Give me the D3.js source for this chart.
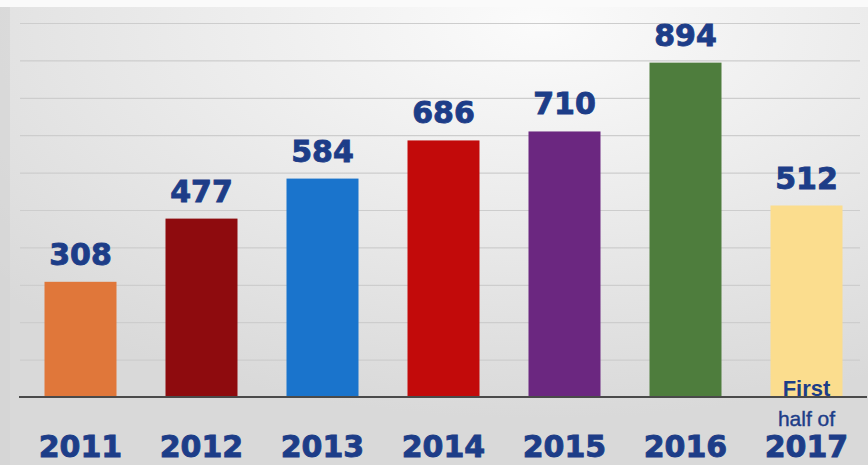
<!DOCTYPE html>
<html>
<head>
<meta charset="utf-8">
<script src="https://cdn.jsdelivr.net/npm/d3@7"></script>
<style>
  html, body { margin: 0; padding: 0; background: #e2e2e2; }
  svg { display: block; }
</style>
</head>
<body>
<svg id="chart" width="868" height="465"></svg>
<script>
// Yearly totals
const years = ["2011", "2012", "2013", "2014", "2015", "2016", "2017"];
const values = [308, 477, 584, 686, 710, 894, 512];
const barColors = ["#e0773a", "#8e0b0e", "#1a74cc", "#c20a0a", "#6b2780", "#4e7d3d", "#fbdd8e"];
// Extra wording shown above a year label (only the partial year has it)
const yearNotes = ["", "", "", "", "", "", "First|half of"];
const gridTicks = [100, 200, 300, 400, 500, 600, 700, 800, 900, 1000];

const W = 868, H = 465;
const svg = d3.select("#chart");
const textBlue = "#1d3d88";

// Background: soft grey with a brighter area toward the upper right
const defs = svg.append("defs");
const bg = defs.append("radialGradient").attr("id", "bgGrad")
  .attr("cx", "62%").attr("cy", "5%").attr("r", "85%");
bg.append("stop").attr("offset", "0%").attr("stop-color", "#fbfbfb");
bg.append("stop").attr("offset", "45%").attr("stop-color", "#ececec");
bg.append("stop").attr("offset", "100%").attr("stop-color", "#d9d9d9");
svg.append("rect").attr("width", W).attr("height", H).attr("fill", "url(#bgGrad)");
svg.append("rect").attr("width", 10).attr("height", H).attr("fill", "#d4d4d4").attr("opacity", 0.6);
svg.append("rect").attr("x", 0).attr("width", W).attr("height", 7).attr("fill", "#fafafa");

const x = d3.scaleBand()
  .domain(years)
  .range([20, 867])
  .paddingInner(0.405)
  .paddingOuter(0.2025);

const y = d3.scaleLinear().domain([0, 1000]).range([397, 23]);

// Horizontal grid lines
svg.append("g")
  .attr("transform", "translate(20,0)")
  .call(d3.axisLeft(y).tickValues(gridTicks).tickSize(-840).tickFormat(""))
  .call(g => g.select(".domain").remove())
  .call(g => g.selectAll(".tick line").attr("stroke", "#cdcdcd").attr("stroke-width", 1.2));

// Bars
svg.append("g").selectAll("rect")
  .data(years)
  .join("rect")
  .attr("x", d => x(d))
  .attr("width", x.bandwidth())
  .attr("y", (d, i) => y(values[i]))
  .attr("height", (d, i) => y(0) - y(values[i]))
  .attr("fill", (d, i) => barColors[i]);

// Value labels
svg.append("g").selectAll("text")
  .data(years)
  .join("text")
  .attr("x", d => x(d) + x.bandwidth() / 2)
  .attr("y", (d, i) => y(values[i]) - 17)
  .attr("text-anchor", "middle")
  .attr("font-family", "DejaVu Sans")
  .attr("font-weight", "bold")
  .attr("font-size", 30)
  .attr("fill", textBlue)
  .attr("stroke", textBlue)
  .attr("stroke-width", 0.9)
  .text((d, i) => values[i]);

// Baseline axis with year labels
const xAxis = svg.append("g")
  .attr("transform", `translate(0,${y(0)})`)
  .call(d3.axisBottom(x).tickSize(0).tickPadding(0));
xAxis.select(".domain").attr("d", "M19,0H867").attr("stroke", "#4a4a4a").attr("stroke-width", 2);
xAxis.selectAll(".tick text")
  .attr("y", 60)
  .attr("dy", 0)
  .attr("font-family", "DejaVu Sans")
  .attr("font-weight", "bold")
  .attr("font-size", 30)
  .attr("fill", textBlue)
  .attr("stroke", textBlue)
  .attr("stroke-width", 0.9);

// Notes above year labels
xAxis.selectAll(".tick").each(function(d, i) {
  if (!yearNotes[i]) return;
  const [first, second] = yearNotes[i].split("|");
  const t = d3.select(this);
  t.append("text").attr("y", -1).attr("text-anchor", "middle")
    .attr("font-family", "Liberation Sans").attr("font-weight", "bold")
    .attr("font-size", 22).attr("fill", textBlue).text(first);
  t.append("text").attr("y", 29).attr("text-anchor", "middle")
    .attr("font-family", "Liberation Sans")
    .attr("font-size", 21).attr("fill", textBlue)
    .attr("stroke", textBlue).attr("stroke-width", 0.4).text(second);
});
</script>
</body>
</html>
